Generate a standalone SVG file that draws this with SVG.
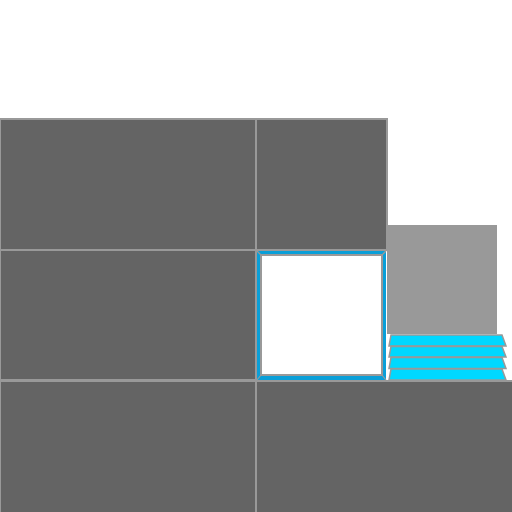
<svg xmlns="http://www.w3.org/2000/svg" width="512" height="512" viewBox="0 0 512 512">
<style>
.blk{fill:#646464;stroke:#999;stroke-width:2}
.step{fill:#00d8ff;stroke:#999;stroke-width:1.5}
.miter{stroke:#999;stroke-width:1.2}
</style>
<rect width="512" height="512" fill="#fff"/>
<g id="wall">
<rect class="blk" x="0" y="119" width="256" height="131"/>
<rect class="blk" x="256" y="119" width="131" height="131"/>
<rect class="blk" x="0" y="250" width="256" height="130"/>
<rect class="blk" x="0" y="381" width="256" height="133"/>
<rect class="blk" x="256" y="381" width="258" height="133"/>
</g>
<g id="panel">
<rect x="387" y="225" width="110" height="109" fill="#999"/>
</g>
<g id="window">
<rect x="257" y="251" width="129" height="129" fill="#0a9fd8"/>
<rect x="260" y="254" width="123" height="122" fill="#999"/>
<rect x="262" y="256" width="119" height="118" fill="#fff"/>
<line class="miter" x1="257" y1="251" x2="261" y2="255"/>
<line class="miter" x1="386" y1="251" x2="382" y2="255"/>
<line class="miter" x1="257" y1="380" x2="261" y2="375"/>
<line class="miter" x1="386" y1="380" x2="382" y2="375"/>
</g>
<g id="steps">
<polygon class="step" points="391,335 502,335 506,346 389,346"/>
<polygon class="step" points="391,346.5 502,346.5 506,357 389,357"/>
<polygon class="step" points="391,357.5 502,357.5 506,368.5 389,368.5"/>
<polygon class="step" points="391,369 502,369 506,380 389,380"/>
</g>
</svg>
